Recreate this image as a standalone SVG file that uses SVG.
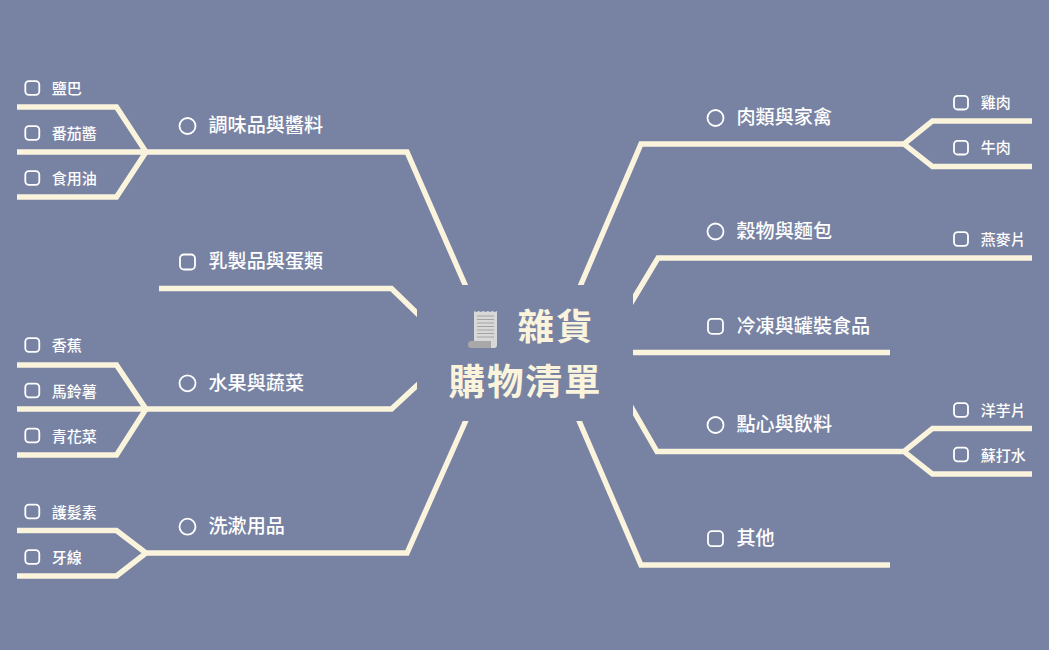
<svg xmlns="http://www.w3.org/2000/svg" width="1049" height="650" viewBox="0 0 1049 650">
<style>
.bg{fill:#7883a3}
.c{fill:none;stroke:#fbf4dd;stroke-width:5.400;stroke-linejoin:miter}
text{font-family:"Noto Sans CJK TC","Noto Sans CJK SC",sans-serif;fill:#fff}
.m{font-size:19.100px;font-weight:500}
.s{font-size:15px;font-weight:500}
.t{font-size:36.500px;font-weight:700;fill:#fbf4dd;letter-spacing:2px}
.ic{fill:none;stroke:#fff;stroke-width:1.800}
</style>
<defs>
<clipPath id="hole"><path clip-rule="evenodd" d="M0 0H1049V650H0ZM417 285H633V421H417Z"/></clipPath>
<rect id="sq" x="-7.500" y="-7.500" width="15" height="15" rx="4" class="ic"/>
<rect id="sqs" x="-7" y="-6.800" width="14" height="13.600" rx="3.600" class="ic"/>
<circle id="ci" r="8" class="ic"/>
</defs>
<rect class="bg" width="1049" height="650"/>
<g id="connectors" clip-path="url(#hole)">
<path class="c" d="M147 152H407L470 296"/>
<path class="c" d="M17 107H116.500L146 152L116.500 197H17M17 152H147"/>
<path class="c" d="M159 288.500H391.500L425 321"/>
<path class="c" d="M147 409H391.500L425 378"/>
<path class="c" d="M17 365H116.500L146 409L116.500 455H17M17 409H147"/>
<path class="c" d="M147 553H407L471 409"/>
<path class="c" d="M17 530.500H116.500L146 553L116.500 576H17"/>
<path class="c" d="M576 296L641 144H903"/>
<path class="c" d="M1032 121H932.500L904 144L932.500 166.500H1032"/>
<path class="c" d="M625 313L658 258H1032"/>
<path class="c" d="M633 352.500H890"/>
<path class="c" d="M625 396L657 451.500H903"/>
<path class="c" d="M1032 428.500H932.500L904 451.500L932.500 474H1032"/>
<path class="c" d="M574 409L641 565H890"/>
</g>
<g id="center">
<g id="receipt-icon">
<path fill="#d8d8d8" d="M474 311l2.300 1 2.300-1 2.300 1 2.300-1 2.300 1 2.300-1 2.300 1 2.300-1 2.300 1 2.300-1V345q0 3-3 3h-6l-1-7H474z"/>
<path fill="#a8a8a8" d="M471 341h20v7h-20q-3 0-3-3.500t3-3.500z"/>
<path stroke="#a3a3a3" stroke-width="1.200" fill="none" d="M477 316H494M477 319.500H494M477 323H494M477 326.500H494M477 330H494M477 333.500H494M477 337H494"/>
</g>
<text class="t" x="517.500" y="340">雜貨</text>
<text class="t" x="448.500" y="394.500">購物清單</text>
</g>
<g id="n-condiments"><use href="#ci" x="187.500" y="126"/><text class="m" x="208.500" y="132">調味品與醬料</text></g>
<g id="n-salt"><use href="#sqs" x="32.300" y="88"/><text class="s" x="51.700" y="94">鹽巴</text></g>
<g id="n-ketchup"><use href="#sqs" x="32.300" y="133"/><text class="s" x="51.700" y="139">番茄醬</text></g>
<g id="n-oil"><use href="#sqs" x="32.300" y="178"/><text class="s" x="51.700" y="184">食用油</text></g>
<g id="n-dairy"><use href="#sq" x="187.500" y="262"/><text class="m" x="208.500" y="268">乳製品與蛋類</text></g>
<g id="n-fruit"><use href="#ci" x="187.500" y="383.300"/><text class="m" x="208.500" y="389.500">水果與蔬菜</text></g>
<g id="n-banana"><use href="#sqs" x="32.300" y="345"/><text class="s" x="51.700" y="351">香蕉</text></g>
<g id="n-potato"><use href="#sqs" x="32.300" y="390.500"/><text class="s" x="51.700" y="396.500">馬鈴薯</text></g>
<g id="n-broccoli"><use href="#sqs" x="32.300" y="435.500"/><text class="s" x="51.700" y="441.500">青花菜</text></g>
<g id="n-toiletries"><use href="#ci" x="187.500" y="526.700"/><text class="m" x="208.500" y="533">洗漱用品</text></g>
<g id="n-conditioner"><use href="#sqs" x="32.300" y="511.500"/><text class="s" x="51.700" y="517.500">護髮素</text></g>
<g id="n-floss"><use href="#sqs" x="32.300" y="557"/><text class="s" x="51.700" y="562.500">牙線</text></g>
<g id="n-meat"><use href="#ci" x="715.500" y="118"/><text class="m" x="736.500" y="124">肉類與家禽</text></g>
<g id="n-chicken"><use href="#sqs" x="961" y="102.700"/><text class="s" x="980.700" y="108">雞肉</text></g>
<g id="n-beef"><use href="#sqs" x="961" y="147.700"/><text class="s" x="980.700" y="153">牛肉</text></g>
<g id="n-grains"><use href="#ci" x="715.500" y="231.500"/><text class="m" x="736.500" y="237.500">穀物與麵包</text></g>
<g id="n-oats"><use href="#sqs" x="961" y="239"/><text class="s" x="980.700" y="245">燕麥片</text></g>
<g id="n-frozen"><use href="#sq" x="715.500" y="326.300"/><text class="m" x="736.500" y="332.500">冷凍與罐裝食品</text></g>
<g id="n-snacks"><use href="#ci" x="715.500" y="425"/><text class="m" x="736.500" y="431">點心與飲料</text></g>
<g id="n-chips"><use href="#sqs" x="961" y="410"/><text class="s" x="980.700" y="415.500">洋芋片</text></g>
<g id="n-soda"><use href="#sqs" x="961" y="454.500"/><text class="s" x="980.700" y="460.500">蘇打水</text></g>
<g id="n-other"><use href="#sq" x="715.500" y="538.700"/><text class="m" x="736.500" y="545">其他</text></g>
</svg>
